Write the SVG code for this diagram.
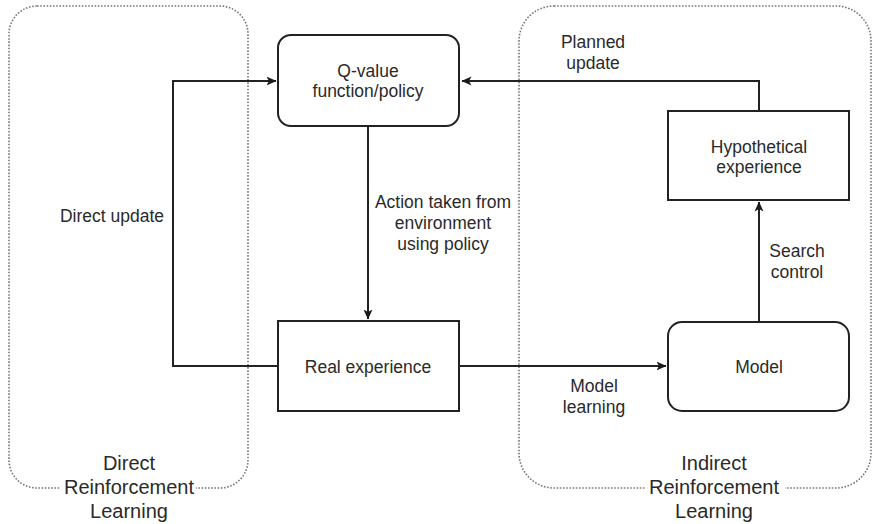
<svg xmlns="http://www.w3.org/2000/svg" width="873" height="524" viewBox="0 0 873 524">
<defs>
<marker id="arr" viewBox="0 0 10 10" refX="9.5" refY="5" markerWidth="10" markerHeight="10" markerUnits="userSpaceOnUse" orient="auto">
<path d="M0,0.5 L10,5 L0,9.5 L2.5,5 Z" fill="#1a1a1a"/>
</marker>
</defs>
<style>
text{font-family:"Liberation Sans",Arial,sans-serif;fill:#2a2a2a;text-anchor:middle}
.n{font-size:17.5px}
.big{font-size:20px}
.cont{fill:none;stroke:#777;stroke-width:1.6;stroke-dasharray:1.6 1.6}
.box{fill:#fff;stroke:#222;stroke-width:2}
.edge{fill:none;stroke:#222;stroke-width:2}
</style>
<rect width="873" height="524" fill="#fff"/>
<g id="direct-rl">
<rect class="cont" x="9" y="6" width="239" height="482" rx="28"/>
<rect x="60" y="476" width="136" height="20" fill="#fff"/>
<text class="big" x="129" y="470">Direct</text>
<text class="big" x="129" y="494">Reinforcement</text>
<text class="big" x="129" y="518">Learning</text>
</g>
<g id="indirect-rl">
<rect class="cont" x="519" y="6" width="352" height="482" rx="35"/>
<rect x="645" y="476" width="140" height="20" fill="#fff"/>
<text class="big" x="714" y="470">Indirect</text>
<text class="big" x="714" y="494">Reinforcement</text>
<text class="big" x="714" y="518">Learning</text>
</g>
<g id="connectors">
<path class="edge" d="M278,366 H173 V81 H276" marker-end="url(#arr)"/>
<path class="edge" d="M368,126 V319" marker-end="url(#arr)"/>
<path class="edge" d="M459,366 H666" marker-end="url(#arr)"/>
<path class="edge" d="M759,322 V202" marker-end="url(#arr)"/>
<path class="edge" d="M759,111 V81 H462" marker-end="url(#arr)"/>
<text class="n" x="112" y="222">Direct update</text>
<text class="n" x="443" y="208">Action taken from</text>
<text class="n" x="443" y="229">environment</text>
<text class="n" x="443" y="250">using policy</text>
<text class="n" x="797" y="257">Search</text>
<text class="n" x="797" y="278">control</text>
<text class="n" x="593" y="48">Planned</text>
<text class="n" x="593" y="69">update</text>
<text class="n" x="594" y="392">Model</text>
<text class="n" x="594" y="413">learning</text>
</g>
<g id="q-value">
<rect class="box" x="278" y="35" width="181" height="91" rx="13"/>
<text class="n" x="368" y="77">Q-value</text>
<text class="n" x="368" y="97">function/policy</text>
</g>
<g id="real-experience">
<rect class="box" x="278" y="321" width="181" height="90"/>
<text class="n" x="368" y="373">Real experience</text>
</g>
<g id="model">
<rect class="box" x="668" y="322" width="181" height="89" rx="14"/>
<text class="n" x="759" y="373">Model</text>
</g>
<g id="hypothetical-experience">
<rect class="box" x="668" y="111" width="181" height="89"/>
<text class="n" x="759" y="153">Hypothetical</text>
<text class="n" x="759" y="173">experience</text>
</g>
</svg>
